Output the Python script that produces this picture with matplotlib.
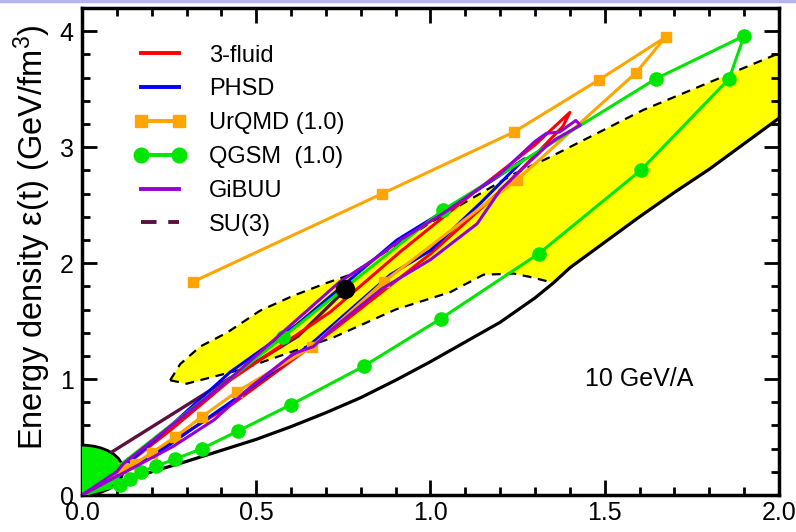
import numpy as np
import matplotlib
matplotlib.use('Agg')
import matplotlib.pyplot as plt
from matplotlib.patches import Ellipse
from matplotlib.lines import Line2D
from matplotlib.ticker import MultipleLocator, FormatStrFormatter

plt.rcParams['font.family'] = ['Liberation Sans', 'DejaVu Sans']
plt.rcParams['mathtext.fontset'] = 'custom'
plt.rcParams['mathtext.rm'] = 'Liberation Sans'
plt.rcParams['mathtext.it'] = 'Liberation Sans:italic'

## data

# yellow band: upper dashed edge, lower dashed edge, solid black edge
x_up = [0.253, 0.282, 0.339, 0.416, 0.511, 0.607, 0.703, 0.770, 1.0, 1.24, 1.34, 1.61, 2.0]
y_up = [0.99, 1.13, 1.28, 1.40, 1.59, 1.72, 1.83, 1.90, 2.35, 2.77, 2.91, 3.32, 3.81]
x_lo = [0.253, 0.30, 0.454, 0.578, 0.722, 0.90, 1.057, 1.152, 1.239, 1.287, 1.353]
y_lo = [0.99, 0.96, 1.08, 1.21, 1.36, 1.60, 1.75, 1.90, 1.91, 1.88, 1.83]
x_bd = [0.0, 0.1, 0.2, 0.3, 0.4, 0.5, 0.6, 0.7, 0.8, 0.9, 1.0, 1.1, 1.2, 1.3, 1.353,
        1.4, 1.5, 1.6, 1.7, 1.8, 1.9, 2.0]
y_bd = [0.0, 0.1, 0.2, 0.29, 0.385, 0.48, 0.59, 0.71, 0.84, 0.99, 1.15, 1.32, 1.49, 1.70, 1.83,
        1.96, 2.18, 2.40, 2.61, 2.81, 3.03, 3.25]

# 3-fluid
x_3f = [0, 0.1, 0.25, 0.425, 0.713, 0.914, 1.1, 1.3, 1.40, 1.38, 1.2, 1.0, 0.72, 0.434, 0.25, 0.1, 0]
y_3f = [0, 0.2, 0.55, 0.99, 1.58, 2.10, 2.55, 3.02, 3.30, 3.18, 2.62, 2.08, 1.42, 0.79, 0.45, 0.17, 0]

# PHSD
x_ph = [0, 0.1, 0.2, 0.425, 0.617, 0.77, 0.904, 1.05, 1.181, 1.27, 1.23, 1.144, 1.0, 0.885, 0.66, 0.45, 0.24, 0.1, 0]
y_ph = [0, 0.2, 0.45, 1.06, 1.47, 1.86, 2.20, 2.47, 2.72, 2.90, 2.78, 2.52, 2.11, 1.90, 1.31, 0.85, 0.41, 0.17, 0]

# UrQMD (1.0)
x_ur = [0.319, 0.862, 1.239, 1.483, 1.675, 1.589, 1.249, 0.866, 0.66, 0.444, 0.344, 0.267, 0.20, 0.152, 0.119, 0.0]
y_ur = [1.84, 2.60, 3.13, 3.58, 3.95, 3.64, 2.72, 1.84, 1.28, 0.89, 0.675, 0.50, 0.365, 0.27, 0.23, 0.0]

# QGSM (1.0)
x_qg = [0.0, 0.109, 0.138, 0.17, 0.213, 0.267, 0.344, 0.449, 0.60, 0.808, 1.029, 1.31, 1.603, 1.857,
        1.90, 1.647, 1.037, 0.578, 0.0]
y_qg = [0.0, 0.086, 0.14, 0.20, 0.25, 0.31, 0.40, 0.554, 0.78, 1.11, 1.52, 2.08, 2.80, 3.59,
        3.96, 3.59, 2.46, 1.365, 0.0]

# GiBUU
x_gi = [0, 0.1, 0.119, 0.42, 0.74, 0.837, 0.914, 1.037, 1.2, 1.30, 1.333, 1.37, 1.417, 1.43,
        1.36, 1.333, 1.276, 1.2, 1.134, 1.0, 0.856, 0.713, 0.664, 0.607, 0.483, 0.38, 0.262, 0.1, 0]
y_gi = [0, 0.2, 0.27, 0.99, 1.84, 2.03, 2.20, 2.43, 2.77, 3.05, 3.12, 3.13, 3.23, 3.19,
        3.07, 3.01, 2.85, 2.63, 2.34, 2.03, 1.77, 1.42, 1.28, 1.22, 0.93, 0.65, 0.42, 0.16, 0]

# SU(3)
x_su = [0.085, 0.42, 0.62, 0.756]
y_su = [0.37, 1.0, 1.37, 1.77]

# black point
x_pt = [0.756]
y_pt = [1.78]

fig = plt.figure(figsize=(7.96, 5.32), dpi=100)
ax = fig.add_axes([0.103, 0.0695, 0.8756, 0.9154])

# yellow region
bx = [x for x in x_bd if x >= x_lo[-1]]
by = y_bd[len(x_bd) - len(bx):]
xp = x_up + bx[::-1] + x_lo[::-1]
yp = y_up + by[::-1] + y_lo[::-1]
ax.fill(xp, yp, color='#ffff00', lw=0, zorder=1)
ax.plot(x_up, y_up, color='k', lw=1.6, dashes=(4, 3), zorder=2)
ax.plot(x_lo, y_lo, color='k', lw=1.6, dashes=(4, 3), zorder=2)
ax.plot(x_bd, y_bd, color='k', lw=2.3, zorder=3)

ax.add_patch(Ellipse((0, 0.215), 0.236, 0.43, facecolor='#00ee00', edgecolor='k', lw=2, zorder=3))

ax.plot(x_su, y_su, color='#5c1040', lw=2.4, zorder=4)
ax.plot(x_3f, y_3f, color='#ff0000', lw=2.2, zorder=4)
ax.plot(x_ph, y_ph, color='#0000ff', lw=2.2, zorder=4)
ax.plot(x_ur, y_ur, color='#ffa500', lw=2.2, marker='s', ms=7, markevery=list(range(len(x_ur) - 1)), zorder=5)
ax.plot(x_qg, y_qg, color='#00e600', lw=2.2, marker='o', ms=9.5, markevery=list(range(1, len(x_qg) - 1)), zorder=5)
ax.plot(x_gi, y_gi, color='#9400d3', lw=2.2, zorder=6)
ax.plot(x_pt, y_pt, 'o', color='k', ms=13, zorder=7)

ax.text(1.60, 1.0, '10 GeV/A', fontsize=18, ha='center', va='center')

handles = [
    Line2D([], [], color='#ff0000', lw=2.8),
    Line2D([], [], color='#0000ff', lw=2.8),
    Line2D([], [], color='#ffa500', lw=2.8, marker='s', ms=8.5),
    Line2D([], [], color='#00e600', lw=2.8, marker='o', ms=10.5),
    Line2D([], [], color='#9400d3', lw=2.8),
    Line2D([], [], color='#5c1040', lw=2.8, dashes=(4, 3)),
]
labels = ['3-fluid', 'PHSD', 'UrQMD (1.0)', 'QGSM  (1.0)', 'GiBUU', 'SU(3)']
ax.legend(handles, labels, loc='upper left', bbox_to_anchor=(0.075, 0.925), frameon=False,
          fontsize=17, numpoints=2, handlelength=2.2, handletextpad=0.95, labelspacing=0.5,
          borderpad=0, borderaxespad=0)

ax.set_xlim(0, 2.0)
ax.set_ylim(0, 4.2)
ax.xaxis.set_major_locator(MultipleLocator(0.5))
ax.xaxis.set_minor_locator(MultipleLocator(0.1))
ax.yaxis.set_major_locator(MultipleLocator(1))
ax.yaxis.set_minor_locator(MultipleLocator(0.2))
ax.xaxis.set_major_formatter(FormatStrFormatter('%.1f'))
ax.yaxis.set_major_formatter(FormatStrFormatter('%d'))
ax.tick_params(which='both', direction='in', top=True, right=True, labelsize=18, width=2)
ax.tick_params(which='major', length=11)
ax.tick_params(which='minor', length=6)
ax.tick_params(axis='y', pad=6)
ax.tick_params(axis='x', pad=4)
for s in ax.spines.values():
    s.set_linewidth(2.5)

ax.set_ylabel('Energy density ε(t) (GeV/fm$^{3}$)', fontsize=23.5)
ax.yaxis.set_label_coords(-0.042, 0.53)

fig.add_artist(Line2D([0, 1], [0.998, 0.998], color='#b4b4f4', lw=2.5))

plt.savefig('out.png', dpi=100)
